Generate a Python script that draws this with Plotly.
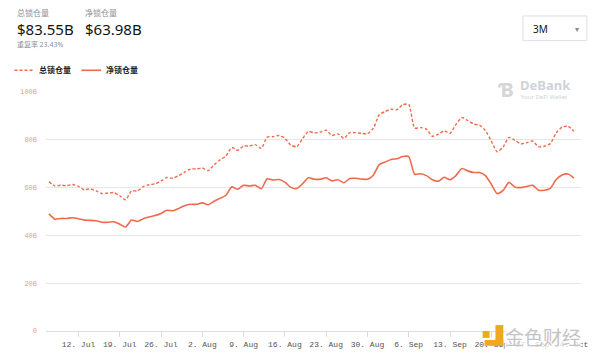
import plotly.graph_objects as go
import pandas as pd

start_date = "2021-07-07"
total_locked = [62.5, 60.7, 61.0, 60.8, 61.3, 60.5, 59.1, 59.5, 58.6, 57.5,
                57.7, 57.9, 56.6, 54.9, 58.6, 58.6, 60.4, 61.2, 61.6, 62.8,
                64.2, 63.9, 65.0, 66.5, 67.8, 67.8, 68.2, 67.1, 69.5, 71.6,
                73.2, 76.8, 75.6, 77.4, 77.4, 78.0, 76.4, 81.1, 81.3, 81.8,
                80.7, 77.8, 77.1, 80.5, 83.5, 82.9, 83.2, 84.0, 81.8, 82.5,
                80.6, 83.0, 83.0, 82.7, 82.5, 84.8, 90.5, 91.8, 92.8, 92.6,
                94.7, 94.8, 84.9, 85.1, 84.5, 81.5, 82.3, 83.8, 82.7, 86.4,
                89.3, 88.1, 86.6, 86.1, 83.9, 79.5, 75.0, 77.0, 81.0, 79.8,
                78.3, 78.8, 79.5, 77.1, 77.3, 78.4, 82.9, 85.3, 85.7, 83.55]
net_locked = [49.0, 46.8, 47.1, 47.1, 47.4, 47.0, 46.4, 46.3, 46.1, 45.5,
              45.5, 45.7, 44.7, 43.5, 46.4, 45.8, 47.0, 47.7, 48.3, 49.2,
              50.5, 50.3, 51.3, 52.4, 53.0, 53.0, 53.6, 52.8, 54.3, 55.5,
              56.8, 60.3, 59.3, 61.0, 60.7, 61.0, 59.5, 63.7, 63.2, 63.4,
              62.3, 60.1, 59.6, 61.6, 64.1, 63.5, 63.5, 64.1, 62.8, 63.3,
              62.0, 63.8, 63.9, 63.6, 63.5, 65.2, 69.6, 70.7, 71.8, 72.1,
              73.0, 73.0, 65.6, 65.8, 65.0, 63.3, 62.7, 64.3, 63.3, 65.0,
              68.0, 67.0, 66.3, 66.3, 65.0, 61.4, 57.5, 58.8, 62.2, 60.2,
              60.0, 60.5, 61.0, 58.9, 58.9, 59.7, 63.4, 65.3, 65.7, 63.98]
dates = pd.date_range(start_date, periods=len(total_locked), freq="D")

y_tick_vals = [0, 20, 40, 60, 80, 100]
y_tick_text = ["0", "20B", "40B", "60B", "80B", "100B"]
x_tick_vals = pd.date_range("2021-07-12", "2021-10-04", freq="7D")
series_names = ["总锁仓量", "净锁仓量"]

LINE = "#ef6a4c"
PW, PH = 544, 242   # plot area size in px
OX, OY = 40, 92     # plot area origin in page px


def px(xp):
    return (xp - OX) / PW


def py(yp):
    return 1 - (yp - OY) / PH


fig = go.Figure()
fig.add_trace(go.Scatter(x=dates, y=total_locked, mode="lines", name=series_names[0],
                         line=dict(color=LINE, width=1.4, dash="3px,2px", shape="spline", smoothing=0.6),
                         showlegend=False))
fig.add_trace(go.Scatter(x=dates, y=net_locked, mode="lines", name=series_names[1],
                         line=dict(color=LINE, width=1.6, shape="spline", smoothing=0.6),
                         showlegend=False))

# page has an 8px body margin, so the figure is 592x353 starting at (8,8)
fig.update_layout(
    width=592, height=353,
    margin=dict(l=32, r=16, t=84, b=19),
    paper_bgcolor="white", plot_bgcolor="white",
    xaxis=dict(
        range=["2021-07-06 12:00", "2021-10-05 05:00"],
        tickvals=list(x_tick_vals), tickformat="%-d. %b",
        tickfont=dict(family="Liberation Mono", size=8, color="#555"),
        ticks="outside", ticklen=5, tickcolor="#d8dde6",
        showline=True, linecolor="#d8dde6", linewidth=1,
        showgrid=False, zeroline=False,
    ),
    yaxis=dict(
        range=[0, 100], tickvals=y_tick_vals, ticktext=y_tick_text,
        tickfont=dict(family="Liberation Mono", size=7, color="#f39a8c"),
        showgrid=True, gridcolor="#e6e6e6", gridwidth=1,
        zeroline=False, showline=False, ticks="", ticklabelstandoff=8,
    ),
    font=dict(family="Noto Sans CJK SC"),
)

# header texts
fig.add_annotation(xref="paper", yref="paper", x=px(8), y=py(12), xanchor="left", yanchor="middle",
                   text="总锁仓量", showarrow=False, font=dict(size=8, color="#8a8f99"))
fig.add_annotation(xref="paper", yref="paper", x=px(8), y=py(28), xanchor="left", yanchor="middle",
                   text="$83.55B", showarrow=False, font=dict(family="Noto Sans", size=15, color="#111"))
fig.add_annotation(xref="paper", yref="paper", x=px(78), y=py(12), xanchor="left", yanchor="middle",
                   text="净锁仓量", showarrow=False, font=dict(size=8, color="#8a8f99"))
fig.add_annotation(xref="paper", yref="paper", x=px(78), y=py(28), xanchor="left", yanchor="middle",
                   text="$63.98B", showarrow=False, font=dict(family="Noto Sans", size=15, color="#111"))
fig.add_annotation(xref="paper", yref="paper", x=px(8), y=py(43), xanchor="left", yanchor="middle",
                   text="重复率 <span style='font-family:Noto Sans'>23.43%</span>", showarrow=False,
                   font=dict(size=7, color="#8a8f99"))

# legend
fig.add_shape(type="line", xref="paper", yref="paper", x0=px(8), x1=px(28),
              y0=py(70), y1=py(70), line=dict(color=LINE, width=1.4, dash="3px,2px"))
fig.add_annotation(xref="paper", yref="paper", x=px(31), y=py(69), xanchor="left", yanchor="middle",
                   text="<b>总锁仓量</b>", showarrow=False, font=dict(size=8, color="#222"))
fig.add_shape(type="line", xref="paper", yref="paper", x0=px(76), x1=px(96),
              y0=py(70), y1=py(70), line=dict(color=LINE, width=1.6))
fig.add_annotation(xref="paper", yref="paper", x=px(99), y=py(69), xanchor="left", yanchor="middle",
                   text="<b>净锁仓量</b>", showarrow=False, font=dict(size=8, color="#222"))

# dropdown box
fig.add_shape(type="rect", xref="paper", yref="paper", x0=px(525), x1=px(590),
              y0=py(40), y1=py(15), line=dict(color="#dcdfe6", width=1), fillcolor="white")
fig.add_annotation(xref="paper", yref="paper", x=px(533), y=py(28), xanchor="left", yanchor="middle",
                   text="3M", showarrow=False, font=dict(family="Noto Sans", size=10, color="#111"))
fig.add_annotation(xref="paper", yref="paper", x=px(580), y=py(28), xanchor="center", yanchor="middle",
                   text="▾", showarrow=False, font=dict(size=8, color="#888"))

# watermarks
fig.add_annotation(xref="paper", yref="paper", x=px(518), y=py(89), xanchor="right", yanchor="middle",
                   text="<b>Ɓ</b>", showarrow=False, font=dict(family="Noto Sans", size=20, color="#d6d6d6"))
fig.add_annotation(xref="paper", yref="paper", x=px(520), y=py(85), xanchor="left", yanchor="middle",
                   text="<b>DeBank</b>", showarrow=False, font=dict(family="Noto Sans", size=13, color="#cfd3d8"))
fig.add_annotation(xref="paper", yref="paper", x=px(521), y=py(97), xanchor="left", yanchor="middle",
                   text="Your DeFi Wallet", showarrow=False, font=dict(family="Noto Sans", size=6, color="#cfd3d8"))
fig.add_annotation(xref="paper", yref="paper", x=px(506), y=py(340), xanchor="left", yanchor="middle",
                   text="金色财经", showarrow=False, font=dict(size=19, color="#c4c4c4"),
                   bgcolor="rgba(255,255,255,0.75)", borderpad=0)
fig.add_shape(type="rect", xref="paper", yref="paper", x0=px(497), x1=px(505),
              y0=py(349), y1=py(328), fillcolor="#f0a81c", line=dict(width=0))
fig.add_shape(type="rect", xref="paper", yref="paper", x0=px(486), x1=px(505),
              y0=py(349), y1=py(343), fillcolor="#f0a81c", line=dict(width=0))
fig.add_shape(type="rect", xref="paper", yref="paper", x0=px(484), x1=px(491),
              y0=py(341), y1=py(334), fillcolor="#f0a81c", line=dict(width=0))

fig.write_html("out.html")
